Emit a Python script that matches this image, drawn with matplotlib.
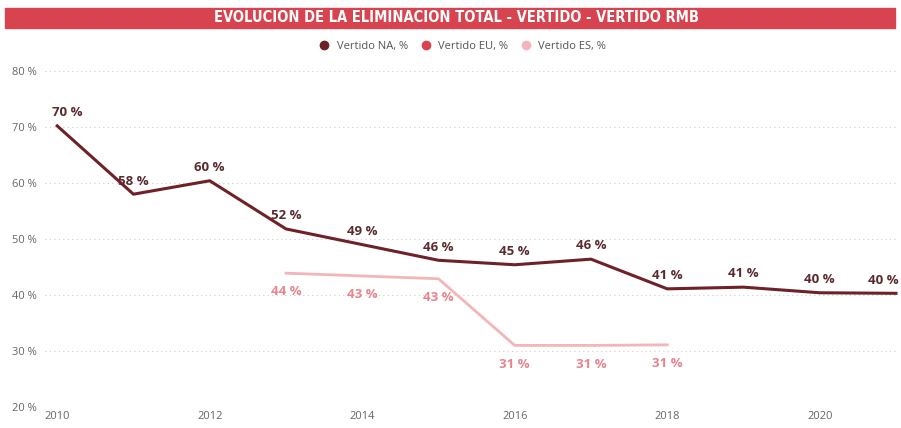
import matplotlib
matplotlib.use("Agg")
import matplotlib.pyplot as plt
from matplotlib.patches import Rectangle
from matplotlib.lines import Line2D

years = [2010, 2011, 2012, 2013, 2014, 2015, 2016, 2017, 2018, 2019, 2020, 2021]
vertido_na = [70.2, 58.0, 60.4, 51.8, 49.0, 46.2, 45.4, 46.4, 41.1, 41.4, 40.4, 40.3]
years_es = [2013, 2014, 2015, 2016, 2017, 2018]
vertido_es = [43.9, 43.4, 42.9, 31.0, 31.0, 31.1]
legend_names = ["Vertido NA, %", "Vertido EU, %", "Vertido ES, %"]
title = "EVOLUCION DE LA ELIMINACION TOTAL - VERTIDO - VERTIDO RMB"

c_na = "#6E2228"
c_eu = "#D7434F"
c_es = "#F2B5BA"
c_es_lbl = "#E8848E"
c_tick = "#666666"

plt.rcParams['font.family'] = ['Open Sans', 'DejaVu Sans']

fig = plt.figure(figsize=(9.01, 4.28), dpi=100)
fig.patch.set_facecolor("white")

# title bar
fig.patches.append(Rectangle((5/901, 1-28/428), 890/901, 20/428,
                             transform=fig.transFigure, color=c_eu, zorder=0))
fig.text(0.507, 1-18/428, title, color="white", ha="center", va="center",
         fontsize=10.5, fontweight="bold", fontstretch="condensed",
         family=['DejaVu Sans'])

ax = fig.add_axes([45/901, 1-407/428, 851/901, 336/428])
ax.set_xlim(2009.84, 2021.0)
ax.set_ylim(20, 80)
for s in ax.spines.values():
    s.set_visible(False)
ax.set_yticks([20, 30, 40, 50, 60, 70, 80])
ax.set_yticklabels([f"{v} %" for v in [20, 30, 40, 50, 60, 70, 80]])
ax.set_xticks([2010, 2012, 2014, 2016, 2018, 2020])
ax.set_xticklabels(["2010", "2012", "2014", "2016", "2018", "2020"])
ax.tick_params(length=0, colors=c_tick, labelsize=8)
ax.tick_params(axis="y", pad=6)
ax.tick_params(axis="x", pad=3)
ax.grid(axis="y", color="#CCCCCC", linestyle=(0, (1, 3)), linewidth=0.8)
ax.set_axisbelow(True)

ax.plot(years, vertido_na, color=c_na, linewidth=2.2, clip_on=False)
ax.plot(years_es, vertido_es, color=c_es, linewidth=2.0, clip_on=False)

for i, (x, v) in enumerate(zip(years, vertido_na)):
    dx = 0
    if i == 0:
        dx = 7
    elif i == len(years) - 1:
        dx = -9
    ax.annotate(f"{round(v)} %", (x, v), xytext=(dx, 9.5), textcoords="offset points",
                ha="center", va="center", fontsize=9.5, fontweight="bold", color="#5A2A2E")
for x, v in zip(years_es, vertido_es):
    ax.annotate(f"{round(v)} %", (x, v), xytext=(0, -13.5), textcoords="offset points",
                ha="center", va="center", fontsize=9.5, fontweight="bold", color=c_es_lbl)

handles = [Line2D([], [], marker="o", linestyle="", color=c, markersize=6)
           for c in [c_na, c_eu, c_es]]
fig.legend(handles, legend_names, loc="center", bbox_to_anchor=(0.51, 1-46/428),
           ncol=3, frameon=False, fontsize=8, handletextpad=0.1, columnspacing=0.6,
           labelcolor="#555555")

fig.savefig("out.png", dpi=100)
